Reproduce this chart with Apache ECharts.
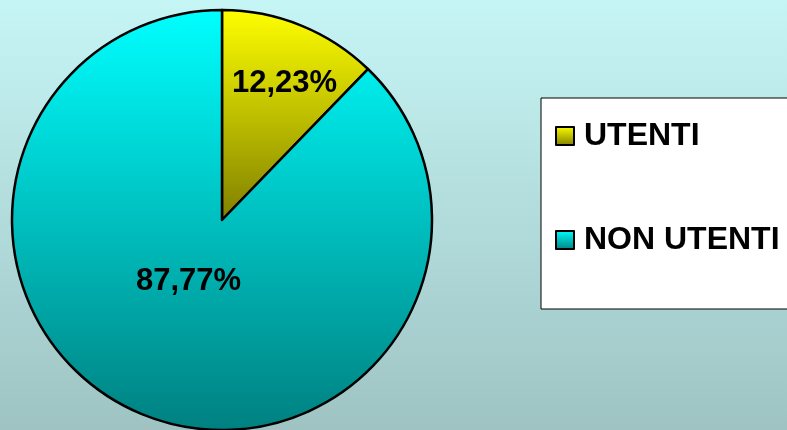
<!DOCTYPE html>
<html>
<head>
<meta charset="utf-8">
<script src="https://cdn.jsdelivr.net/npm/echarts@6/dist/echarts.min.js"></script>
<style>
html,body{margin:0;padding:0;}
#c{width:787px;height:430px;}
</style>
</head>
<body>
<div id="c"></div>
<script>
const categories = ['UTENTI', 'NON UTENTI'];
const values = [12.23, 87.77];
const labelTexts = ['12,23%', '87,77%'];

const grad = (a, b) => new echarts.graphic.LinearGradient(0, 0, 0, 1, [{offset: 0, color: a}, {offset: 1, color: b}]);
const fills = [grad('#FFFF00', '#7F7F00'), grad('#00FFFF', '#008080')];
const labelOffsets = [[22, -36], [7, -39]];

const chart = echarts.init(document.getElementById('c'), null, {renderer: 'canvas'});
chart.setOption({
  backgroundColor: grad('#C6F5F5', '#9FC3C3'),
  animation: false,
  legend: {
    orient: 'vertical',
    left: 541,
    top: 98,
    data: categories,
    icon: 'rect',
    itemWidth: 18,
    itemHeight: 18,
    itemGap: 72,
    padding: [22, 30, 53, 14],
    backgroundColor: '#FFFFFF',
    borderColor: '#000000',
    borderWidth: 1,
    borderRadius: 0,
    selectedMode: false,
    textStyle: {
      fontFamily: 'Liberation Sans, Arial, sans-serif',
      fontWeight: 'bold',
      fontSize: 32,
      lineHeight: 32,
      color: '#000000',
      padding: [0, 0, 0, 5]
    }
  },
  series: [{
    type: 'pie',
    center: [222, 220],
    radius: [0, 210],
    startAngle: 90,
    clockwise: true,
    label: {
      show: true,
      position: 'inside',
      fontFamily: 'Liberation Sans, Arial, sans-serif',
      fontWeight: 'bold',
      fontSize: 31,
      color: '#000000'
    },
    labelLine: {show: false},
    emphasis: {disabled: true},
    itemStyle: {borderColor: '#000000', borderWidth: 2.5},
    data: categories.map((name, i) => ({
      name: name,
      value: values[i],
      itemStyle: {color: fills[i], borderColor: '#000000', borderWidth: 2.5},
      label: {formatter: labelTexts[i], offset: labelOffsets[i]}
    }))
  }]
});
</script>
</body>
</html>
